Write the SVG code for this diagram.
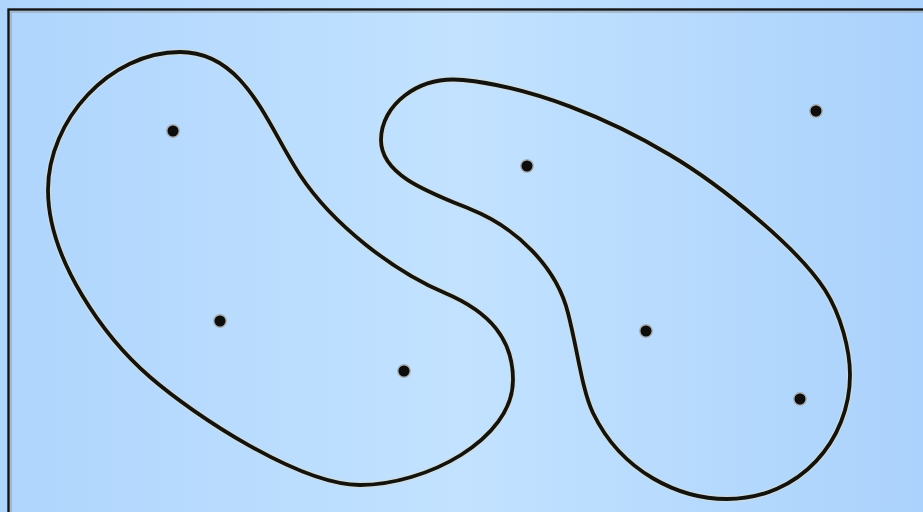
<svg xmlns="http://www.w3.org/2000/svg" width="923" height="512" viewBox="0 0 923 512">
<defs>
<linearGradient id="bg" x1="0" y1="0" x2="1" y2="0">
<stop offset="0" stop-color="#afd5fd"/>
<stop offset="0.5" stop-color="#c2e2ff"/>
<stop offset="1" stop-color="#abd2fc"/>
</linearGradient>
<style>
.halo{fill:none;stroke:#d6dbd2;stroke-width:6.4;stroke-opacity:0.7}
.blob{fill:none;stroke:#12120e;stroke-width:3.8;stroke-linejoin:round}
.dot{fill:#0d0d0d;stroke:#a8adb0;stroke-width:1.4}
</style>
<path id="pl" d="M180,52 C245,52 267,125 300,175 C333,225 394,271.5 445,293 C491,312.5 513,340 513,380 C513,440 425,485 360,485 C300,485 195,416 150,377 C104.6,337.7 48,260 48,190 C48,120 110,52 180,52 Z"/>
<path id="pr" d="M463,80 C533,87 610,119 670,155 C721.6,185.6 798,248 825,290 C841,315 850,350 850,375 C850,440 800,499 727,499 C680,499 622,473 593,413 C582,390 578,352 568,313 C556.7,267.4 516.5,227.5 470,209 C428,192 381,175 381,140 C381,105 418,75.5 463,80 Z"/>
</defs>
<rect width="923" height="512" fill="url(#bg)"/>
<rect x="8.5" y="9.5" width="940" height="540" fill="none" stroke="#151515" stroke-width="2.4"/>
<rect x="11" y="12" width="940" height="540" fill="none" stroke="#9aa6b0" stroke-width="1.2"/>
<g id="set-left">
<use href="#pl" class="halo"/>
<use href="#pl" class="blob"/>
<circle class="dot" cx="173" cy="131" r="6.2"/>
<circle class="dot" cx="220" cy="321" r="6.2"/>
<circle class="dot" cx="404" cy="371" r="6.2"/>
</g>
<g id="set-right">
<use href="#pr" class="halo"/>
<use href="#pr" class="blob"/>
<circle class="dot" cx="527" cy="166" r="6.2"/>
<circle class="dot" cx="646" cy="331" r="6.2"/>
<circle class="dot" cx="800" cy="399" r="6.2"/>
</g>
<g id="outside">
<circle class="dot" cx="816" cy="111" r="6.2"/>
</g>
<g id="connectors"/>
</svg>
